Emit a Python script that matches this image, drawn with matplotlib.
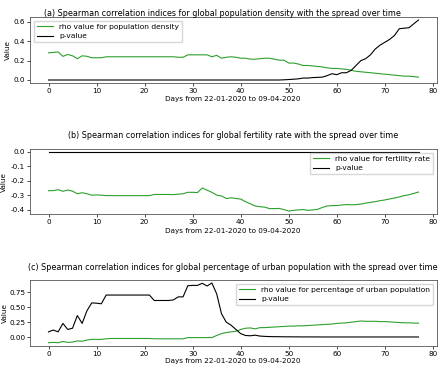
import matplotlib
matplotlib.use("Agg")
import matplotlib.pyplot as plt
from matplotlib.ticker import FormatStrFormatter

days = list(range(78))

rho_density = [0.281, 0.285, 0.29, 0.244, 0.264, 0.25, 0.22, 0.25, 0.245, 0.23,
               0.23, 0.23, 0.24, 0.24, 0.24, 0.24, 0.24, 0.24, 0.24, 0.24,
               0.24, 0.24, 0.24, 0.24, 0.24, 0.24, 0.24, 0.235, 0.235, 0.26,
               0.26, 0.26, 0.26, 0.26, 0.24, 0.255, 0.225, 0.235, 0.24, 0.235,
               0.225, 0.225, 0.215, 0.215, 0.22, 0.225, 0.225, 0.215, 0.205, 0.205,
               0.175, 0.175, 0.165, 0.15, 0.15, 0.145, 0.14, 0.135, 0.125, 0.12,
               0.12, 0.115, 0.11, 0.1, 0.09, 0.085, 0.08, 0.075, 0.07, 0.065,
               0.06, 0.055, 0.05, 0.045, 0.04, 0.04, 0.035, 0.03]
p_density = [0.0] * 49 + [0.002, 0.005, 0.008, 0.012, 0.02, 0.02, 0.025, 0.027, 0.03,
                          0.045, 0.065, 0.055, 0.075, 0.075, 0.1, 0.15, 0.2, 0.22,
                          0.26, 0.32, 0.36, 0.39, 0.42, 0.46, 0.53, 0.535, 0.54,
                          0.58, 0.62]

rho_fertility = [-0.269, -0.268, -0.262, -0.273, -0.264, -0.272, -0.29, -0.283, -0.29, -0.3,
                 -0.298, -0.3, -0.303, -0.303, -0.303, -0.303, -0.303, -0.303, -0.303, -0.303,
                 -0.303, -0.303, -0.295, -0.295, -0.295, -0.295, -0.296, -0.293, -0.29, -0.28,
                 -0.28, -0.282, -0.25, -0.265, -0.28, -0.3, -0.305, -0.323, -0.318, -0.323,
                 -0.327, -0.345, -0.36, -0.375, -0.38, -0.383, -0.393, -0.393, -0.392, -0.4,
                 -0.41, -0.405, -0.402, -0.4, -0.405, -0.402, -0.398, -0.385, -0.375, -0.372,
                 -0.372, -0.368, -0.365, -0.367, -0.365, -0.362, -0.355, -0.35, -0.345, -0.338,
                 -0.333, -0.326, -0.32, -0.312, -0.303, -0.297, -0.288, -0.278]
p_fertility = [0.0] * 78

rho_urban = [-0.09, -0.085, -0.09, -0.07, -0.085, -0.08, -0.06, -0.065, -0.045, -0.035,
             -0.035, -0.035, -0.025, -0.02, -0.02, -0.02, -0.02, -0.02, -0.02, -0.02,
             -0.02, -0.02, -0.025, -0.025, -0.025, -0.025, -0.025, -0.025, -0.025, -0.005,
             -0.005, -0.005, -0.005, -0.005, -0.005, 0.03, 0.06, 0.08, 0.09, 0.1,
             0.13, 0.15, 0.155, 0.14, 0.16, 0.16, 0.165, 0.17, 0.175, 0.18,
             0.185, 0.185, 0.19, 0.19, 0.195, 0.2, 0.205, 0.21, 0.215, 0.22,
             0.23, 0.235, 0.24, 0.25, 0.26, 0.27, 0.265, 0.265, 0.265, 0.26,
             0.26, 0.255, 0.25, 0.245, 0.24, 0.24, 0.235, 0.235]
p_urban = [0.09, 0.12, 0.09, 0.23, 0.13, 0.15, 0.36, 0.23, 0.44, 0.57,
           0.565, 0.555, 0.70, 0.70, 0.70, 0.70, 0.70, 0.70, 0.70, 0.70,
           0.70, 0.70, 0.61, 0.61, 0.61, 0.61, 0.62, 0.67, 0.67, 0.855,
           0.86, 0.86, 0.895, 0.85, 0.90, 0.72, 0.39, 0.25, 0.2, 0.13,
           0.06, 0.03, 0.025, 0.035, 0.02, 0.015, 0.012, 0.01, 0.01, 0.008,
           0.008, 0.007, 0.007, 0.006, 0.006, 0.006, 0.006, 0.005, 0.005, 0.005,
           0.005, 0.005, 0.005, 0.005, 0.005, 0.005, 0.005, 0.005, 0.005, 0.005,
           0.005, 0.005, 0.005, 0.005, 0.005, 0.005, 0.005, 0.005]

titles = ["(a) Spearman correlation indices for global population density with the spread over time",
          "(b) Spearman correlation indices for global fertility rate with the spread over time",
          "(c) Spearman correlation indices for global percentage of urban population with the spread over time"]
rho_labels = ["rho value for population density", "rho value for fertility rate",
              "rho value for percentage of urban population"]
xlabel = "Days from 22-01-2020 to 09-04-2020"
x_ticks = [0, 10, 20, 30, 40, 50, 60, 70, 80]
y_ticks = [[0.0, 0.2, 0.4, 0.6], [-0.4, -0.3, -0.2, -0.1, 0.0], [0.0, 0.25, 0.5, 0.75]]
y_fmt = ["%.1f", "%.1f", "%.2f"]

W, H = 440, 366
fig = plt.figure(figsize=(W / 100, H / 100), dpi=100)

boxes = [(17, 83), (149, 214), (280, 345.7)]
title_y = [13, 135, 267]
title_x = [222, 233, 233]
xlabel_y = [99, 230.5, 360.5]
ylabel_x = [8, 3.5, 5]
legend_loc = ["upper left", "upper right", "upper right"]
rhos = [rho_density, rho_fertility, rho_urban]
ps = [p_density, p_fertility, p_urban]

left, right = 30, 437
for i in range(3):
    top, bot = boxes[i]
    ax = fig.add_axes([left / W, 1 - bot / H, (right - left) / W, (bot - top) / H])
    ax.plot(days, rhos[i], color="#2ca02c", lw=0.8, label=rho_labels[i])
    ax.plot(days, ps[i], color="black", lw=0.8, label="p-value")
    ax.set_xticks(x_ticks)
    ax.set_yticks(y_ticks[i])
    ax.yaxis.set_major_formatter(FormatStrFormatter(y_fmt[i]))
    ax.tick_params(labelsize=5.2, length=2, width=0.5, pad=1.5)
    for s in ax.spines.values():
        s.set_linewidth(0.6)
        s.set_color("#555555")
    ax.legend(loc=legend_loc[i], fontsize=5.4, handlelength=2.2, borderpad=0.4,
              labelspacing=0.4, framealpha=0.8)
    fig.text(ylabel_x[i] / W, 1 - ((top + bot) / 2) / H, "Value", rotation=90, fontsize=5.2,
             ha="center", va="center")
    fig.text(title_x[i] / W, 1 - title_y[i] / H, titles[i], fontsize=5.8,
             ha="center", va="center")
    fig.text(233 / W, 1 - xlabel_y[i] / H, xlabel, fontsize=5.2, ha="center", va="center")

fig.savefig("out.png", dpi=100)
